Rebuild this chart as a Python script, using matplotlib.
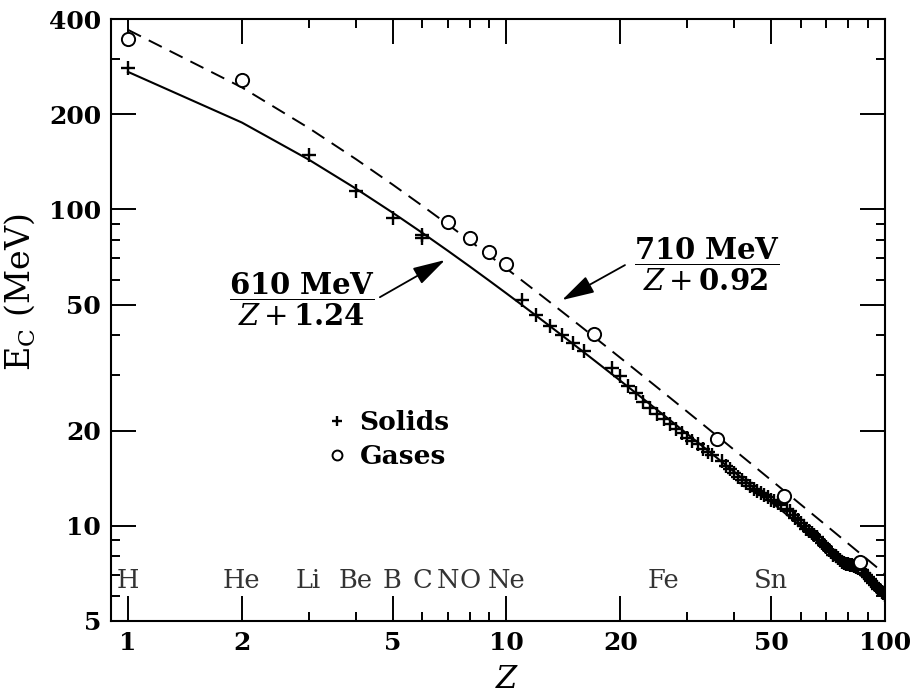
import numpy as np
import matplotlib
matplotlib.use("Agg")
import matplotlib.pyplot as plt
from matplotlib.ticker import FixedLocator, NullFormatter

plt.rcParams["font.family"] = ["DejaVu Serif"]
plt.rcParams["mathtext.fontset"] = "custom"
plt.rcParams["mathtext.rm"] = "DejaVu Serif"
plt.rcParams["mathtext.it"] = "DejaVu Serif:italic"
plt.rcParams["mathtext.bf"] = "DejaVu Serif:bold"

# fit parameters written on the chart: E_c = a / (Z + b)
solid_a, solid_b = 610.0, 1.24
gas_a, gas_b = 710.0, 0.92
z_fit = np.arange(1, 101)

# solids (and liquids)
solid_z = [1, 3, 4, 5, 6, 6,
           11, 12, 13, 14, 15, 16,
           19, 20, 21, 22, 23, 24, 25, 26, 27, 28, 29, 30, 31, 32, 33, 34, 35,
           37, 38, 39, 40, 41, 42, 43, 44, 45, 46, 47, 48, 49, 50, 51, 52, 53,
           55, 56, 57, 58, 59, 60, 61, 62, 63, 64, 65, 66, 67, 68, 69, 70,
           71, 72, 73, 74, 75, 76, 77, 78, 79, 80, 81, 82, 83, 84, 85,
           87, 88, 89, 90, 91, 92, 93, 94, 95, 96, 97, 98, 99, 100]
solid_ec = [280, 149, 114, 94, 81, 83,
            51.7, 46.5, 42.8, 40.1, 37.7, 35.7,
            31.6, 29.7, 27.7, 26.2, 24.7, 23.6, 22.6, 21.8, 21.0, 20.3, 19.6,
            19.0, 18.6, 18.1, 17.5, 17.1, 16.8,
            16.0, 15.5, 15.1, 14.7, 14.3, 14.0, 13.7, 13.4, 13.1, 12.9, 12.7,
            12.5, 12.3, 12.1, 12.0, 11.8, 11.6,
            11.3, 11.1, 10.8, 10.6, 10.4, 10.2, 10.0, 9.8, 9.65, 9.5, 9.35,
            9.2, 9.0, 8.85, 8.7, 8.55,
            8.4, 8.25, 8.1, 8.0, 7.9, 7.8, 7.7, 7.62, 7.58, 7.55, 7.52, 7.5,
            7.45, 7.4, 7.35,
            7.25, 7.1, 7.0, 6.9, 6.8, 6.7, 6.6, 6.5, 6.4, 6.33, 6.25, 6.18,
            6.12, 6.05]

# gases
gas_z = [1, 2, 7, 8, 9, 10, 17, 36, 54, 86]
gas_ec = [346, 257, 91, 81, 73.5, 67, 40.4, 18.8, 12.4, 7.7]

elem_names = ["H", "He", "Li", "Be", "B", "C", "N", "O", "Ne", "Fe", "Sn"]
elem_z = [1, 2, 3, 4, 5, 6, 7, 8, 10, 26, 50]

x_major = [1, 2, 5, 10, 20, 50, 100]
x_minor = [3, 4, 6, 7, 8, 9, 30, 40, 60, 70, 80, 90]
y_major = [5, 10, 20, 50, 100, 200, 400]
y_minor = [6, 7, 8, 9, 30, 40, 60, 70, 80, 90, 300]

fig = plt.figure(figsize=(9.11, 6.94), dpi=100)
ax = fig.add_axes([0.1218, 0.1052, 0.8497, 0.8674])
ax.set_xscale("log")
ax.set_yscale("log")
ax.set_xlim(0.902, 100)
ax.set_ylim(5, 400)

ax.plot(z_fit, solid_a / (z_fit + solid_b), color="black", lw=1.5)
ax.plot(z_fit, gas_a / (z_fit + gas_b), color="black", lw=1.4,
        dashes=(7.5, 4.5))

ax.plot(solid_z, solid_ec, ls="none", marker="+", ms=10, mew=1.7,
        color="black", label="Solids")
ax.plot(gas_z, gas_ec, ls="none", marker="o", ms=9.5, mew=1.4,
        mfc="white", mec="black", label="Gases")

for name, z in zip(elem_names, elem_z):
    ax.text(z, 6.36, name, ha="center", va="baseline", fontsize=18.5,
            color="#333333")

# formula labels
ax.text(2.88, 52.1, r"$\dfrac{\mathbf{610\ MeV}}{Z+\mathbf{1.24}}$",
        ha="center", va="center", fontsize=21)
ax.annotate("", xy=(6.88, 69.2), xytext=(4.63, 52.8),
            arrowprops=dict(arrowstyle="-|>,head_length=1.0,head_width=0.28",
                            color="black", lw=1.3, mutation_scale=20,
                            shrinkA=0, shrinkB=0))
ax.text(33.9, 67.2, r"$\dfrac{\mathbf{710\ MeV}}{Z+\mathbf{0.92}}$",
        ha="center", va="center", fontsize=21)
ax.annotate("", xy=(14.02, 51.7), xytext=(20.56, 66.7),
            arrowprops=dict(arrowstyle="-|>,head_length=1.0,head_width=0.28",
                            color="black", lw=1.3, mutation_scale=20,
                            shrinkA=0, shrinkB=0))

leg = ax.legend(loc="upper left", bbox_to_anchor=(0.275, 0.35), frameon=False,
                handlelength=1.0, handletextpad=0.35, borderpad=0,
                borderaxespad=0, labelspacing=0.33, markerscale=0.75,
                prop={"size": 19, "weight": "bold"})

ax.xaxis.set_major_locator(FixedLocator(x_major))
ax.xaxis.set_minor_locator(FixedLocator(x_minor))
ax.yaxis.set_major_locator(FixedLocator(y_major))
ax.yaxis.set_minor_locator(FixedLocator(y_minor))
ax.set_xticklabels([str(v) for v in x_major])
ax.set_yticklabels([str(v) for v in y_major])
ax.xaxis.set_minor_formatter(NullFormatter())
ax.yaxis.set_minor_formatter(NullFormatter())

ax.tick_params(which="both", direction="in", top=True, right=True,
               width=1.4, color="black")
ax.tick_params(which="major", length=18, labelsize=18, pad=7)
ax.tick_params(which="minor", length=6.5)
for lab in ax.get_xticklabels() + ax.get_yticklabels():
    lab.set_fontweight("bold")
for s in ax.spines.values():
    s.set_linewidth(1.5)

ax.set_xlabel(r"$Z$", fontsize=22)
ax.xaxis.set_label_coords(0.5116, -0.072)
ax.set_ylabel(r"E$_\mathrm{C}$ (MeV)", fontsize=24)
ax.yaxis.set_label_coords(-0.095, 0.546)

fig.savefig("out.png", dpi=100)
